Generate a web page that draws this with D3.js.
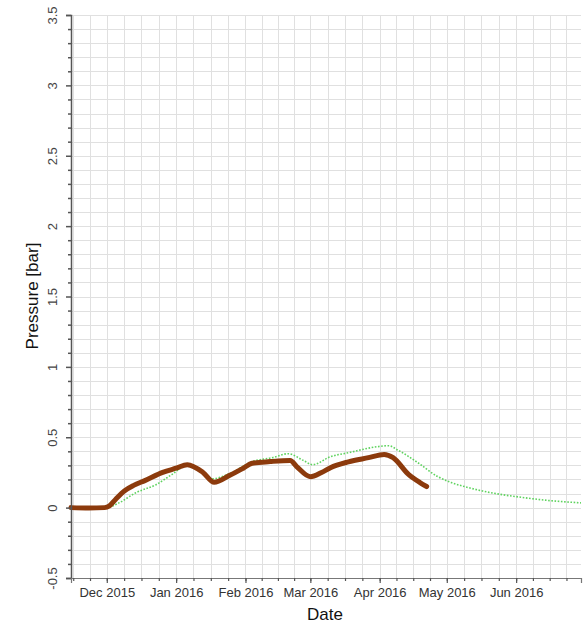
<!DOCTYPE html>
<html>
<head>
<meta charset="utf-8">
<script src="https://cdn.jsdelivr.net/npm/d3@7/dist/d3.min.js"></script>
<style>
  html, body { margin: 0; padding: 0; background: #fff; }
  svg { display: block; font-family: "Liberation Sans", Arial, sans-serif; }
</style>
</head>
<body>
<svg id="chart" width="588" height="627"></svg>
<script>
// Measured pressure (brown) and simulated pressure (green dotted)
const measuredDates = ["2015-11-15","2015-11-23","2015-11-30","2015-12-02","2015-12-05","2015-12-09","2015-12-13","2015-12-18","2015-12-26","2016-01-01","2016-01-06","2016-01-13","2016-01-18","2016-01-25","2016-01-31","2016-02-04","2016-02-12","2016-02-21","2016-02-24","2016-03-01","2016-03-06","2016-03-10","2016-03-18","2016-03-27","2016-04-03","2016-04-07","2016-04-14","2016-04-19","2016-04-22"];
const measuredValues = [0.0, -0.003, 0.0, 0.01, 0.06, 0.12, 0.158, 0.192, 0.25, 0.28, 0.305, 0.25, 0.18, 0.23, 0.28, 0.315, 0.327, 0.335, 0.29, 0.22, 0.25, 0.284, 0.325, 0.355, 0.378, 0.355, 0.234, 0.178, 0.15];

const simulatedDates = ["2015-11-15","2015-12-01","2015-12-06","2015-12-14","2015-12-23","2015-12-30","2016-01-06","2016-01-08","2016-01-17","2016-01-26","2016-02-04","2016-02-13","2016-02-20","2016-02-27","2016-03-02","2016-03-10","2016-03-18","2016-03-31","2016-04-05","2016-04-09","2016-04-18","2016-04-27","2016-05-03","2016-05-10","2016-05-17","2016-05-25","2016-06-02","2016-06-09","2016-06-16","2016-06-23","2016-06-30"];
const simulatedValues = [0.0, 0.0, 0.03, 0.106, 0.163, 0.234, 0.3, 0.3, 0.205, 0.25, 0.327, 0.355, 0.383, 0.334, 0.305, 0.362, 0.39, 0.433, 0.44, 0.41, 0.32, 0.22, 0.178, 0.145, 0.118, 0.094, 0.076, 0.062, 0.05, 0.041, 0.034];

const yTickValues = [-0.5, 0, 0.5, 1, 1.5, 2, 2.5, 3, 3.5];
const yTickLabels = ["-0.5", "0", "0.5", "1", "1.5", "2", "2.5", "3", "3.5"];
const monthStarts = ["2015-11-01","2015-12-01","2016-01-01","2016-02-01","2016-03-01","2016-04-01","2016-05-01","2016-06-01","2016-07-01"];
const monthLabels = ["Dec 2015","Jan 2016","Feb 2016","Mar 2016","Apr 2016","May 2016","Jun 2016"];

const parse = d3.utcParse("%Y-%m-%d");
const svg = d3.select("#chart");

const plotLeft = 71, plotRight = 581, plotTop = 15, plotBottom = 578;
const x = d3.scaleUtc()
  .domain([parse("2015-11-15"), parse("2016-06-30")])
  .range([plotLeft, plotRight]);
const y = d3.scaleLinear().domain([-0.5, 3.5]).range([plotBottom, plotTop]);

// quarter-month subdivisions used for minor ticks and vertical grid
const months = monthStarts.map(parse);
const minorX = [];
for (let i = 0; i < months.length - 1; i++) {
  const a = +months[i], b = +months[i + 1];
  for (let k = 0; k < 4; k++) {
    const t = new Date(a + (b - a) * k / 4);
    if (t >= x.domain()[0] && t <= x.domain()[1]) minorX.push(t);
  }
}
const majorX = months.slice(1, 8);
const minorY = d3.range(-5, 36).map(v => v / 10);

// grid
const grid = svg.append("g").attr("stroke", "#e0e0e0").attr("stroke-width", 1);
grid.selectAll("line.h").data(minorY).join("line")
  .attr("x1", plotLeft).attr("x2", plotRight)
  .attr("y1", d => Math.round(y(d)) + 0.5).attr("y2", d => Math.round(y(d)) + 0.5);
grid.selectAll("line.v").data(minorX).join("line")
  .attr("y1", plotTop).attr("y2", plotBottom)
  .attr("x1", d => Math.round(x(d)) + 0.5).attr("x2", d => Math.round(x(d)) + 0.5);

// series
const line = d3.line()
  .x(d => x(d[0])).y(d => y(d[1]))
  .curve(d3.curveMonotoneX);

const measured = measuredDates.map((d, i) => [parse(d), measuredValues[i]]);
const simulated = simulatedDates.map((d, i) => [parse(d), simulatedValues[i]]);

svg.append("path").datum(simulated)
  .attr("fill", "none").attr("stroke", "#5fd35f").attr("stroke-width", 1.6)
  .attr("stroke-dasharray", "1.6,1.6")
  .attr("d", line);

svg.append("path").datum(measured)
  .attr("fill", "none").attr("stroke", "#8c3a0c").attr("stroke-width", 5)
  .attr("stroke-linejoin", "round").attr("stroke-linecap", "round")
  .attr("d", line);

// y axis
const yAxis = d3.axisLeft(y).tickValues(yTickValues)
  .tickFormat((d, i) => yTickLabels[i]).tickSize(5);
const gy = svg.append("g").attr("transform", `translate(${plotLeft},0)`).call(yAxis);
gy.select(".domain").attr("stroke", "#555").attr("stroke-width", 1.5);
gy.selectAll(".tick line").attr("stroke", "#555").attr("stroke-width", 1.5);
gy.selectAll(".tick text")
  .attr("font-size", 13).attr("fill", "#444")
  .attr("text-anchor", "middle").attr("dy", null).attr("x", null).attr("y", null)
  .attr("transform", "translate(-17,0) rotate(-90)")
  .attr("dominant-baseline", "middle");
svg.append("g").attr("transform", `translate(${plotLeft},0)`)
  .call(d3.axisLeft(y).tickValues(minorY.filter(v => Math.abs(v * 2 - Math.round(v * 2)) > 1e-6)).tickSize(3).tickFormat(""))
  .call(g => g.select(".domain").remove())
  .call(g => g.selectAll(".tick line").attr("stroke", "#555").attr("stroke-width", 1.5));

// x axis
const xAxis = d3.axisBottom(x).tickValues(majorX)
  .tickFormat((d, i) => monthLabels[i]).tickSize(5).tickPadding(5);
const gx = svg.append("g").attr("transform", `translate(0,${plotBottom})`).call(xAxis);
gx.select(".domain").attr("stroke", "#777").attr("stroke-width", 1.2);
gx.selectAll(".tick line").attr("stroke", "#555").attr("stroke-width", 1.2);
gx.selectAll(".tick text").attr("font-size", 13).attr("fill", "#333");
svg.append("g").attr("transform", `translate(0,${plotBottom})`)
  .call(d3.axisBottom(x).tickValues(minorX).tickSize(3).tickFormat(""))
  .call(g => g.select(".domain").remove())
  .call(g => g.selectAll(".tick line").attr("stroke", "#555").attr("stroke-width", 1.2));

// axis titles
svg.append("text")
  .attr("transform", "translate(38,296) rotate(-90)")
  .attr("text-anchor", "middle")
  .attr("font-size", 17).attr("fill", "#111")
  .text("Pressure [bar]");
svg.append("text")
  .attr("x", 325).attr("y", 620)
  .attr("text-anchor", "middle")
  .attr("font-size", 17).attr("fill", "#111")
  .text("Date");
</script>
</body>
</html>
